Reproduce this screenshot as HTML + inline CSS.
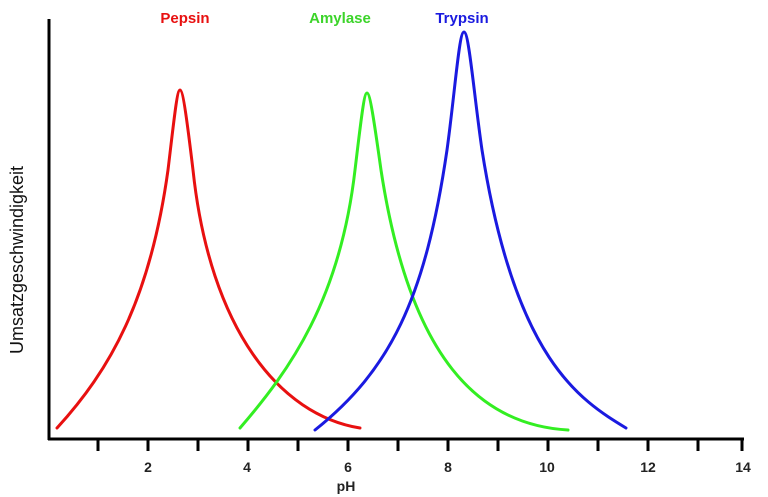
<!DOCTYPE html>
<html><head><meta charset="utf-8"><style>html,body{margin:0;padding:0;background:#fff;}svg{display:block}</style></head>
<body>
<svg width="768" height="497" viewBox="0 0 768 497" xmlns="http://www.w3.org/2000/svg">
<rect width="768" height="497" fill="#fff"/>
<g stroke="#000" stroke-width="3" fill="none">
<line x1="49" y1="19" x2="49" y2="440"/>
<line x1="48" y1="439" x2="744" y2="439"/>
<path d="M98,439v12M148,439v12M198,439v12M248,439v12M298,439v12M348,439v12M398,439v12M448,439v12M498,439v12M548,439v12M598,439v12M648,439v12M698,439v12M742,439v12"/>
</g>
<g font-family="Liberation Sans, sans-serif" font-weight="bold" font-size="14" text-anchor="middle" fill="#222">
<text x="148" y="472">2</text><text x="247" y="472">4</text><text x="348" y="472">6</text>
<text x="448" y="472">8</text><text x="547" y="472">10</text><text x="648" y="472">12</text><text x="743" y="472">14</text>
<text x="346" y="491">pH</text>
</g>
<g font-family="Liberation Sans, sans-serif" font-weight="bold" font-size="15" text-anchor="middle">
<text x="185" y="23" fill="#e81010">Pepsin</text>
<text x="340" y="23" fill="#3cd42a">Amylase</text>
<text x="462" y="23" fill="#1a1adf">Trypsin</text>
</g>
<text transform="translate(23,260) rotate(-90)" font-family="Liberation Sans, sans-serif" font-size="18" text-anchor="middle" fill="#111">Umsatzgeschwindigkeit</text>
<g fill="none" stroke-width="3" stroke-linecap="round">
<path stroke="#e81010" d="M57,428 C110,370 150,300 168,170 C174,120 177,90 180,90 C183,90 187,120 193,170 C210,330 280,415 360,428"/>
<path stroke="#33ee22" d="M240,428 C290,370 340,300 355,170 C361,120 364,93 367,93 C370,93 374,120 381,170 C410,360 480,425 568,430"/>
<path stroke="#1a1ae0" d="M315,430 C390,370 425,300 447,150 C455,92 459,32 464,32 C469,32 474,95 482,150 C515,360 580,400 626,428"/>
</g>
</svg>
</body></html>
